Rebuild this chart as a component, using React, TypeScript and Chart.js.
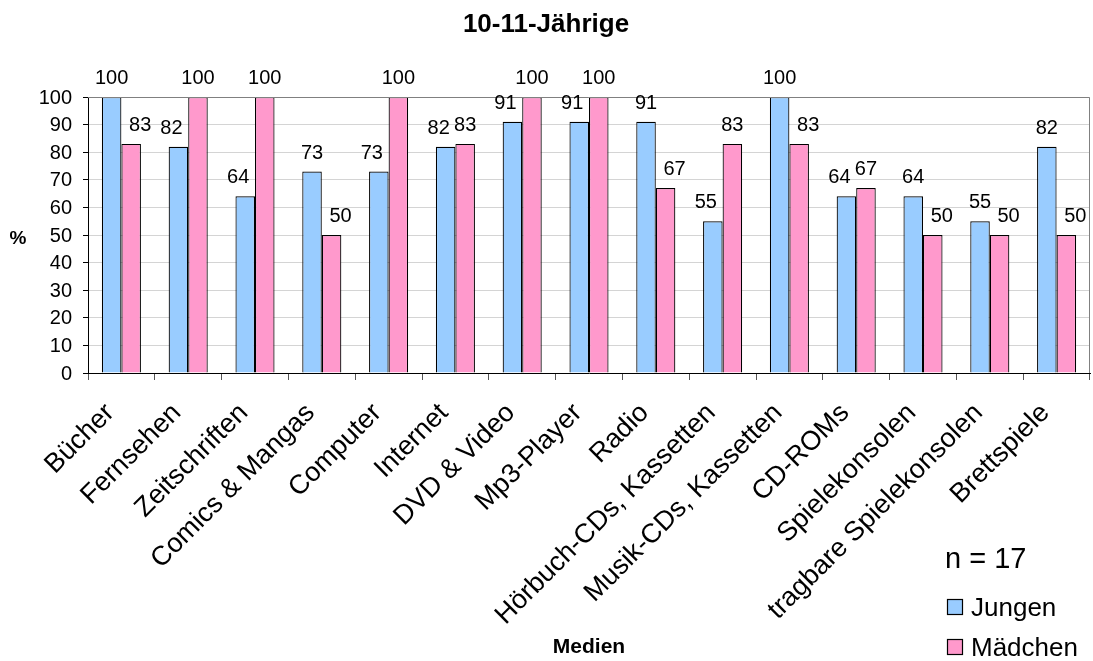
import React, { useEffect, useRef } from "react";
import { Chart, registerables } from "chart.js";

Chart.register(...registerables);

const chartTitle = "10-11-Jährige";
const categories = [
  "Bücher",
  "Fernsehen",
  "Zeitschriften",
  "Comics & Mangas",
  "Computer",
  "Internet",
  "DVD & Video",
  "Mp3-Player",
  "Radio",
  "Hörbuch-CDs, Kassetten",
  "Musik-CDs, Kassetten",
  "CD-ROMs",
  "Spielekonsolen",
  "tragbare Spielekonsolen",
  "Brettspiele",
];
const jungen = [100, 82, 64, 73, 73, 82, 91, 91, 91, 55, 100, 64, 64, 55, 82];
const maedchen = [83, 100, 100, 50, 100, 83, 100, 100, 67, 83, 83, 67, 50, 50, 50];
const seriesNames = ["Jungen", "Mädchen"];
const seriesColors = ["#99CCFF", "#FF99CC"];
const yTickValues = [0, 10, 20, 30, 40, 50, 60, 70, 80, 90, 100];
const xAxisTitle = "Medien";
const yAxisTitle = "%";
const sampleNote = "n = 17";

const FONT = "'Liberation Sans', Arial, sans-serif";

function drawText(
  ctx: CanvasRenderingContext2D,
  text: string,
  x: number,
  y: number,
  font: string,
  align: CanvasTextAlign,
  baseline: CanvasTextBaseline,
  rot = 0
) {
  ctx.save();
  ctx.translate(x, y);
  if (rot) ctx.rotate(rot);
  ctx.font = font;
  ctx.textAlign = align;
  ctx.textBaseline = baseline;
  ctx.fillStyle = "#000";
  ctx.fillText(text, 0, 0);
  ctx.restore();
}

const textPlugin = {
  id: "customText",
  afterDraw(chart: any) {
    const ctx: CanvasRenderingContext2D = chart.ctx;
    const area = chart.chartArea;
    const xs = chart.scales.x;
    const ys = chart.scales.y;

    // plot border (top & right)
    ctx.save();
    ctx.strokeStyle = "#808080";
    ctx.lineWidth = 1;
    ctx.beginPath();
    ctx.moveTo(area.left, Math.round(area.top) + 0.5);
    ctx.lineTo(Math.round(area.right) - 0.5, Math.round(area.top) + 0.5);
    ctx.lineTo(Math.round(area.right) - 0.5, area.bottom);
    ctx.stroke();
    ctx.restore();

    // title
    drawText(ctx, chartTitle, 546, 32, `bold 26px ${FONT}`, "center", "alphabetic");

    // y tick labels
    yTickValues.forEach((v) => {
      const y = ys.getPixelForValue(v);
      drawText(ctx, String(v), 72, y + 1, `20px ${FONT}`, "right", "middle");
    });

    // y title
    drawText(ctx, yAxisTitle, 18, 244, `bold 19px ${FONT}`, "center", "alphabetic");

    // x category labels
    categories.forEach((c, i) => {
      const cx = xs.getPixelForValue(i);
      drawText(ctx, c, cx - 6, 414, `27px ${FONT}`, "right", "alphabetic", -Math.PI / 4);
    });

    // x title
    drawText(ctx, xAxisTitle, 589, 653, `bold 21px ${FONT}`, "center", "alphabetic");

    // data labels
    const m0 = chart.getDatasetMeta(0);
    const m1 = chart.getDatasetMeta(1);
    categories.forEach((_, i) => {
      const a = jungen[i];
      const b = maedchen[i];
      const bar0 = m0.data[i];
      const bar1 = m1.data[i];
      const off0 = a < b ? -7 : 0;
      const off1 = b < a ? 9 : 0;
      drawText(ctx, String(a), bar0.x + off0, bar0.y - 13, `20px ${FONT}`, "center", "alphabetic");
      drawText(ctx, String(b), bar1.x + off1, bar1.y - 13, `20px ${FONT}`, "center", "alphabetic");
    });

    // sample note
    drawText(ctx, sampleNote, 945, 568, `29px ${FONT}`, "left", "alphabetic");

    // legend
    seriesNames.forEach((name, i) => {
      const yc = 607 + i * 40;
      ctx.save();
      ctx.fillStyle = seriesColors[i];
      ctx.fillRect(947, yc - 8, 16, 16);
      ctx.strokeStyle = "#000";
      ctx.lineWidth = 1.2;
      ctx.strokeRect(947.5, yc - 7.5, 15, 15);
      ctx.restore();
      drawText(ctx, name, 971, yc + 9, `26px ${FONT}`, "left", "alphabetic");
    });
  },
};

export default function App() {
  const canvasRef = useRef<HTMLCanvasElement | null>(null);

  useEffect(() => {
    document.body.style.margin = "0";
    const canvas = canvasRef.current;
    if (!canvas) return;
    const chart = new Chart(canvas, {
      type: "bar",
      data: {
        labels: categories,
        datasets: [
          {
            label: seriesNames[0],
            data: jungen,
            backgroundColor: seriesColors[0],
            borderColor: "#000",
            borderWidth: 1.2,
            categoryPercentage: 0.585,
            barPercentage: 1,
          },
          {
            label: seriesNames[1],
            data: maedchen,
            backgroundColor: seriesColors[1],
            borderColor: "#000",
            borderWidth: 1.2,
            categoryPercentage: 0.585,
            barPercentage: 1,
          },
        ],
      },
      options: {
        responsive: false,
        animation: false,
        layout: { padding: { top: 97, right: 3, left: 0, bottom: 0 } },
        plugins: {
          legend: { display: false },
          title: { display: false },
          tooltip: { enabled: false },
        },
        scales: {
          x: {
            offset: true,
            grid: {
              display: true,
              offset: true,
              drawOnChartArea: false,
              drawTicks: true,
              tickLength: 7,
              tickColor: "#555",
            },
            border: { display: true, color: "#000", width: 1 },
            ticks: { display: false },
            afterFit: (s: any) => {
              s.height = 288;
            },
          },
          y: {
            min: 0,
            max: 100,
            ticks: { display: false, stepSize: 10 },
            grid: { color: "#d4d4d4", tickLength: 5, tickColor: "#000" },
            border: { display: true, color: "#000", width: 1 },
            afterFit: (s: any) => {
              s.width = 88;
            },
          },
        },
      },
      plugins: [textPlugin],
    });
    return () => chart.destroy();
  }, []);

  return (
    <div style={{ width: 1093, height: 661, background: "#fff" }}>
      <canvas ref={canvasRef} width={1093} height={661} style={{ display: "block" }} />
    </div>
  );
}
